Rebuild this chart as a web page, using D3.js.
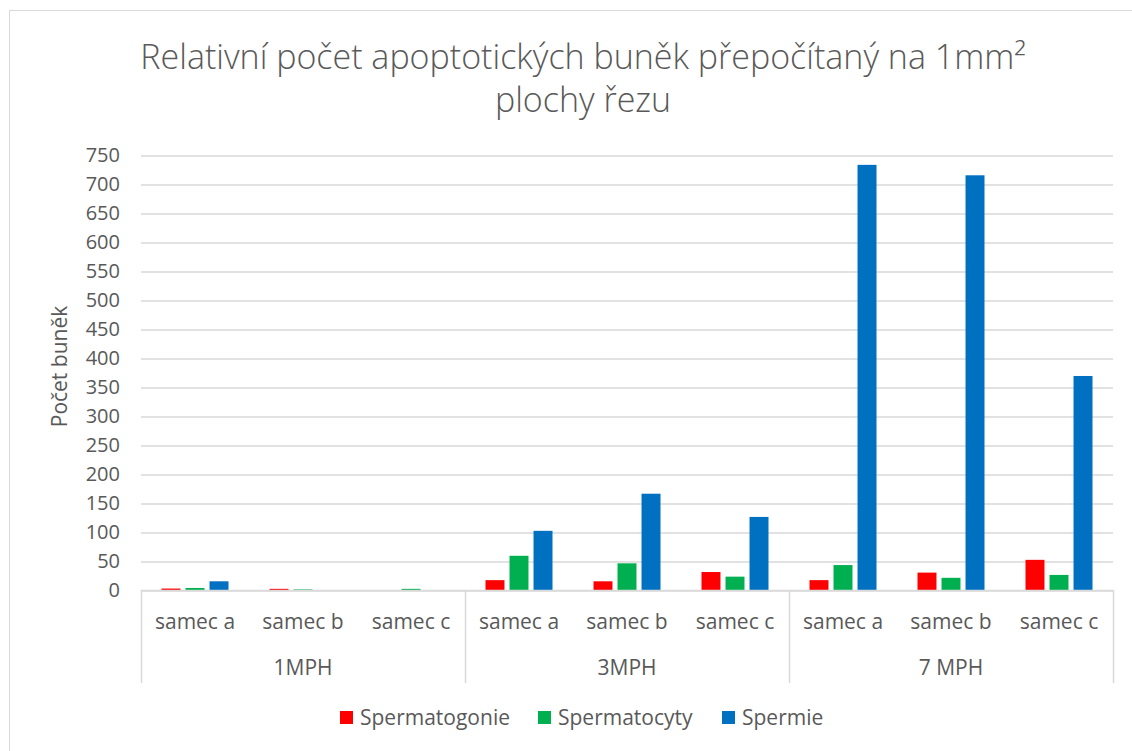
<!DOCTYPE html>
<html>
<head>
<meta charset="utf-8">
<script src="https://cdnjs.cloudflare.com/ajax/libs/d3/7.8.5/d3.min.js"></script>
<style>
  body { margin: 0; background: #fff; }
  text { font-family: "Open Sans", "Noto Sans", sans-serif; fill: #595959; }
</style>
</head>
<body>
<script>
// data
var groups = ["1MPH", "3MPH", "7 MPH"];
var males = ["samec a", "samec b", "samec c"];
var series = ["Spermatogonie", "Spermatocyty", "Spermie"];
var colors = ["#FF0000", "#00B050", "#0070C0"];

var spermatogonie = [2.5, 2, 0, 17, 15, 31, 17, 30, 52];
var spermatocyty = [3.5, 1, 2, 59, 46, 23, 43, 21, 26];
var spermie = [15, 0, 0, 102, 166, 126, 733, 715, 369];

var yTicks = [0, 50, 100, 150, 200, 250, 300, 350, 400, 450, 500, 550, 600, 650, 700, 750];

var w = 1132;
var h = 751;

var plotLeft = 141, plotRight = 1113, plotTop = 155, plotBottom = 590;

var svg = d3.select("body").append("svg")
  .attr("width", w)
  .attr("height", h);

// chart frame
svg.append("rect")
  .attr("x", 9.5).attr("y", 10.5)
  .attr("width", 1200).attr("height", 800)
  .attr("fill", "none")
  .attr("stroke", "#d9d9d9");

// title
var title = svg.append("text")
  .attr("text-anchor", "middle")
  .style("font-size", "34px")
  .style("font-weight", 300);
title.append("tspan").attr("x", 583).attr("y", 69)
  .text("Relativní počet apoptotických buněk přepočítaný na 1mm²");
title.append("tspan").attr("x", 583).attr("y", 112)
  .text("plochy řezu");

// rows: one entry per group/male pair
var rows = [];
groups.forEach(function(g, gi) {
  males.forEach(function(m, mi) {
    var i = gi * males.length + mi;
    rows.push({key: g + "|" + m, group: g, male: m,
      values: [spermatogonie[i], spermatocyty[i], spermie[i]]});
  });
});

var y = d3.scaleLinear().domain([0, 750]).range([plotBottom, plotTop]);

var x0 = d3.scaleBand()
  .domain(rows.map(function(d) { return d.key; }))
  .range([plotLeft, plotRight]);

var gx = d3.scaleBand()
  .domain(groups)
  .range([plotLeft, plotRight]);

var bw = x0.bandwidth();
var x1 = d3.scaleBand()
  .domain(series)
  .range([bw / 2 - 33.5, bw / 2 + 33.5])
  .paddingInner(0.21);

// gridlines
svg.append("g")
  .attr("transform", "translate(" + plotLeft + ",0.5)")
  .call(d3.axisLeft(y).tickValues(yTicks).tickSize(-(plotRight - plotLeft)).tickFormat(""))
  .call(function(g) {
    g.select(".domain").remove();
    g.selectAll("line").attr("stroke", "#d9d9d9").attr("stroke-width", 1.5);
  });

// y tick labels
svg.append("g")
  .selectAll("text")
  .data(yTicks)
  .enter()
  .append("text")
  .attr("x", 120)
  .attr("y", function(d) { return y(d); })
  .attr("dy", "0.35em")
  .attr("text-anchor", "end")
  .style("font-size", "20px")
  .text(function(d) { return d; });

// y axis title
svg.append("text")
  .attr("transform", "translate(67," + ((plotTop + plotBottom) / 2 - 6) + ") rotate(-90)")
  .attr("text-anchor", "middle")
  .style("font-size", "21px")
  .text("Počet buněk");

// bars
var cells = svg.append("g").selectAll("g")
  .data(rows)
  .enter()
  .append("g")
  .attr("transform", function(d) { return "translate(" + x0(d.key) + ",0)"; });

cells.selectAll("rect")
  .data(function(d) { return d.values.map(function(v, i) { return {s: series[i], v: v, c: colors[i]}; }); })
  .enter()
  .append("rect")
  .attr("x", function(d) { return x1(d.s); })
  .attr("width", x1.bandwidth())
  .attr("y", function(d) { return y(d.v); })
  .attr("height", function(d) { return y(0) - y(d.v); })
  .style("fill", function(d) { return d.c; });

// category axis
var axis = svg.append("g").attr("stroke", "#d9d9d9").attr("stroke-width", 1.5);
axis.append("line")
  .attr("x1", plotLeft).attr("x2", plotRight)
  .attr("y1", plotBottom + 0.5).attr("y2", plotBottom + 0.5);
var edges = groups.map(function(g) { return gx(g); }).concat([plotRight]);
axis.selectAll(".sep")
  .data(edges)
  .enter()
  .append("line")
  .attr("x1", function(d) { return Math.round(d) + 0.5; })
  .attr("x2", function(d) { return Math.round(d) + 0.5; })
  .attr("y1", plotBottom)
  .attr("y2", 683);

svg.append("g").selectAll("text")
  .data(rows)
  .enter()
  .append("text")
  .attr("x", function(d) { return x0(d.key) + bw / 2; })
  .attr("y", 629)
  .attr("text-anchor", "middle")
  .style("font-size", "21px")
  .text(function(d) { return d.male; });

svg.append("g").selectAll("text")
  .data(groups)
  .enter()
  .append("text")
  .attr("x", function(d) { return gx(d) + gx.bandwidth() / 2; })
  .attr("y", 675)
  .attr("text-anchor", "middle")
  .style("font-size", "21px")
  .text(function(d) { return d; });

// legend
var legendX = [340, 538, 722];
var legend = svg.append("g").selectAll("g")
  .data(series)
  .enter()
  .append("g")
  .attr("transform", function(d, i) { return "translate(" + legendX[i] + ",711)"; });

legend.append("rect")
  .attr("width", 13).attr("height", 13)
  .style("fill", function(d, i) { return colors[i]; });

legend.append("text")
  .attr("x", 20)
  .attr("y", 14)
  .style("font-size", "21px")
  .text(function(d) { return d; });
</script>
</body>
</html>
